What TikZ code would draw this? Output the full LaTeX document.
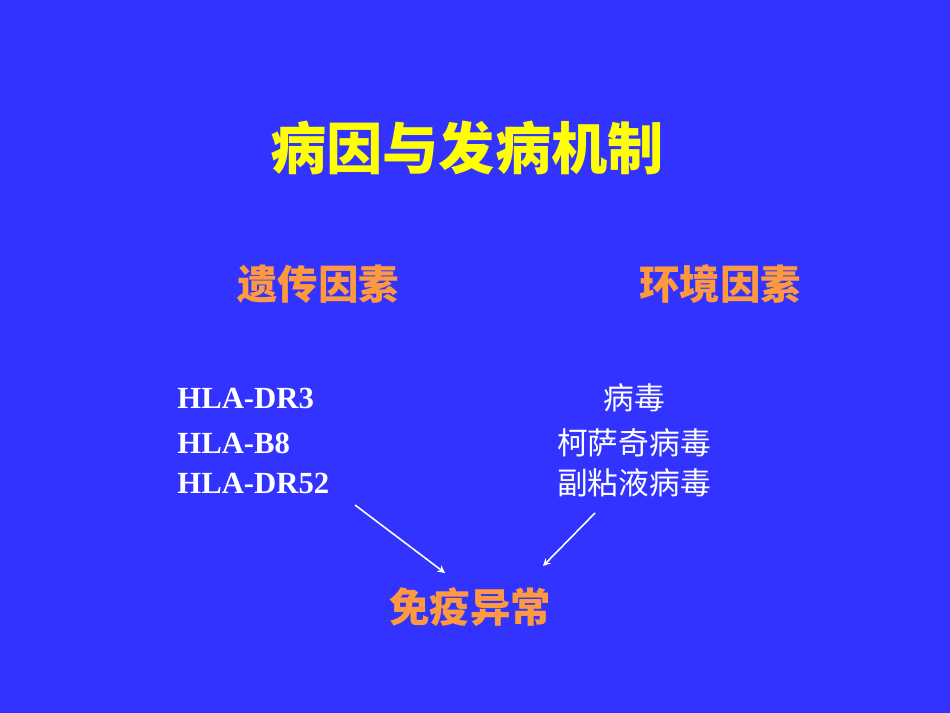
\documentclass[tikz,border=0pt]{standalone}
\usepackage{fontspec}
\setmainfont{Liberation Serif}
\newfontfamily\cjk{Noto Sans CJK SC}
\definecolor{bg}{HTML}{3333FF}
\definecolor{ttl}{HTML}{FFFF00}
\definecolor{org}{HTML}{FF9940}
\begin{document}
\begin{tikzpicture}[x=0.02cm,y=-0.02cm,
  title/.style={text=ttl,font=\cjk\bfseries\fontsize{32}{38}\selectfont},
  head/.style={text=org,font=\cjk\bfseries\fontsize{23}{28}\selectfont},
  item/.style={text=white,font=\bfseries\fontsize{17.5}{21}\selectfont,anchor=west,inner sep=0},
  citem/.style={text=white,font=\cjk\fontsize{17.5}{21}\selectfont,inner sep=0},
  arr/.style={draw=white,line width=0.9pt,-stealth}]
\fill[bg] (0,0) rectangle (950,713);
\useasboundingbox (0,0) rectangle (950,713);
\node[title] (t) at (467,148) {病因与发病机制};
\node[head] (g) at (318,284) {遗传因素};
\node[head] (e) at (720,284) {环境因素};
\node[item] (h1) at (177,398) {HLA-DR3};
\node[item] (h2) at (177,443) {HLA-B8};
\node[item] (h3) at (177,483) {HLA-DR52};
\node[citem] (v1) at (634,398) {病毒};
\node[citem] (v2) at (634,443) {柯萨奇病毒};
\node[citem] (v3) at (634,483) {副粘液病毒};
\node[head] (m) at (470,607) {免疫异常};
\coordinate (a1) at (355,505); \coordinate (b1) at (445,573);
\coordinate (a2) at (595,513); \coordinate (b2) at (543,566);
\draw[arr] (a1) -- (b1);
\draw[arr] (a2) -- (b2);
\end{tikzpicture}
\end{document}
